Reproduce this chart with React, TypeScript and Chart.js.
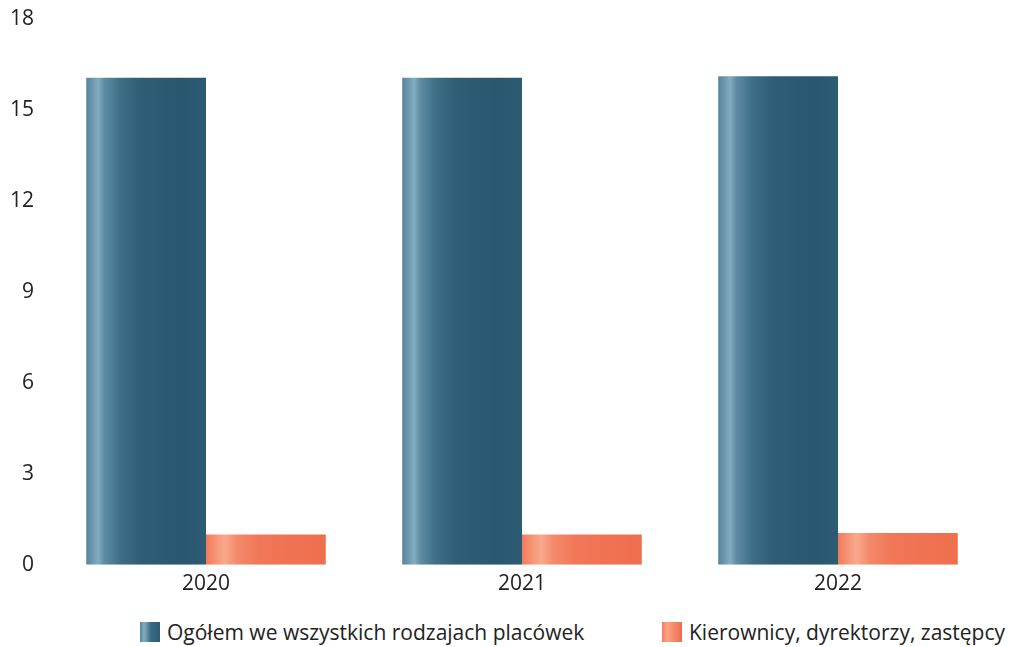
import React, { useEffect, useRef } from "react";
import { Chart, registerables } from "chart.js";

Chart.register(...registerables);

const categories = ["2020", "2021", "2022"];
const seriesNames = ["Ogółem we wszystkich rodzajach placówek", "Kierownicy, dyrektorzy, zastępcy"];
const totalValues = [16.05, 16.05, 16.1];
const managerValues = [1.0, 1.0, 1.05];
const yTicks = [0, 3, 6, 9, 12, 15, 18];

const FONT = "'Open Sans', 'DejaVu Sans', sans-serif";

const blueStops: [number, string][] = [
  [0, "#55849d"],
  [0.06, "#6f9bb1"],
  [0.1, "#84adc0"],
  [0.15, "#5e8ca4"],
  [0.28, "#3f6f88"],
  [0.45, "#2e5d75"],
  [0.8, "#295770"],
  [1, "#2d5b72"],
];
const orangeStops: [number, string][] = [
  [0, "#f17a5a"],
  [0.1, "#f69a7c"],
  [0.16, "#f9a98b"],
  [0.26, "#f38a6b"],
  [0.45, "#f07758"],
  [1, "#ee6e4d"],
];

const gradientPlugin = {
  id: "cylinderGradient",
  beforeDatasetsDraw(chart: any) {
    const ctx = chart.ctx;
    chart.data.datasets.forEach((ds: any, di: number) => {
      const meta = chart.getDatasetMeta(di);
      const stops = di === 0 ? blueStops : orangeStops;
      meta.data.forEach((el: any) => {
        const x0 = el.x - el.width / 2;
        const x1 = el.x + el.width / 2;
        const g = ctx.createLinearGradient(x0, 0, x1, 0);
        stops.forEach(([o, c]) => g.addColorStop(o, c));
        el.options = Object.assign({}, el.options, { backgroundColor: g });
      });
    });
  },
};

export default function App() {
  const ref = useRef<HTMLCanvasElement>(null);
  useEffect(() => {
    document.body.style.margin = "0";
    const chart = new Chart(ref.current!, {
      type: "bar",
      data: {
        labels: categories,
        datasets: [
          { label: seriesNames[0], data: totalValues, backgroundColor: "#2f5d75", borderWidth: 0 },
          { label: seriesNames[1], data: managerValues, backgroundColor: "#ee7050", borderWidth: 0 },
        ],
      },
      options: {
        responsive: false,
        animation: false,
        maintainAspectRatio: false,
        layout: { padding: { left: 4, right: 15, top: 1, bottom: 0 } },
        datasets: { bar: { categoryPercentage: 0.758, barPercentage: 1 } },
        plugins: {
          legend: { display: false },
          tooltip: { enabled: false },
        },
        scales: {
          x: {
            grid: { display: false },
            border: { display: false },
            ticks: { color: "#222", font: { family: FONT, size: 21 }, padding: -1 },
          },
          y: {
            min: 0,
            max: 18,
            afterBuildTicks: (axis: any) => {
              axis.ticks = yTicks.map((v) => ({ value: v }));
            },
            grid: { display: false },
            border: { display: false },
            ticks: { color: "#222", font: { family: FONT, size: 21 }, padding: 6 },
          },
        },
      },
      plugins: [gradientPlugin],
    });
    return () => chart.destroy();
  }, []);

  const legendText: React.CSSProperties = {
    position: "absolute",
    top: 617,
    fontFamily: FONT,
    fontSize: 21,
    color: "#222",
    lineHeight: "30px",
    whiteSpace: "nowrap",
  };
  const box = (left: number, bg: string): React.CSSProperties => ({
    position: "absolute",
    left,
    top: 622,
    width: 20,
    height: 20,
    background: bg,
  });

  return (
    <div style={{ position: "relative", width: 1011, height: 647, background: "#fff" }}>
      <canvas ref={ref} width={1011} height={596} style={{ position: "absolute", left: 0, top: 0 }} />
      <div style={box(140, "linear-gradient(90deg,#55849d,#84adc0 20%,#3a6a83 55%,#2d5b72)")} />
      <div style={{ ...legendText, left: 167 }}>{seriesNames[0]}</div>
      <div style={box(662, "linear-gradient(90deg,#f17a5a,#f9a486 25%,#ee6e4d)")} />
      <div style={{ ...legendText, left: 689 }}>{seriesNames[1]}</div>
    </div>
  );
}
